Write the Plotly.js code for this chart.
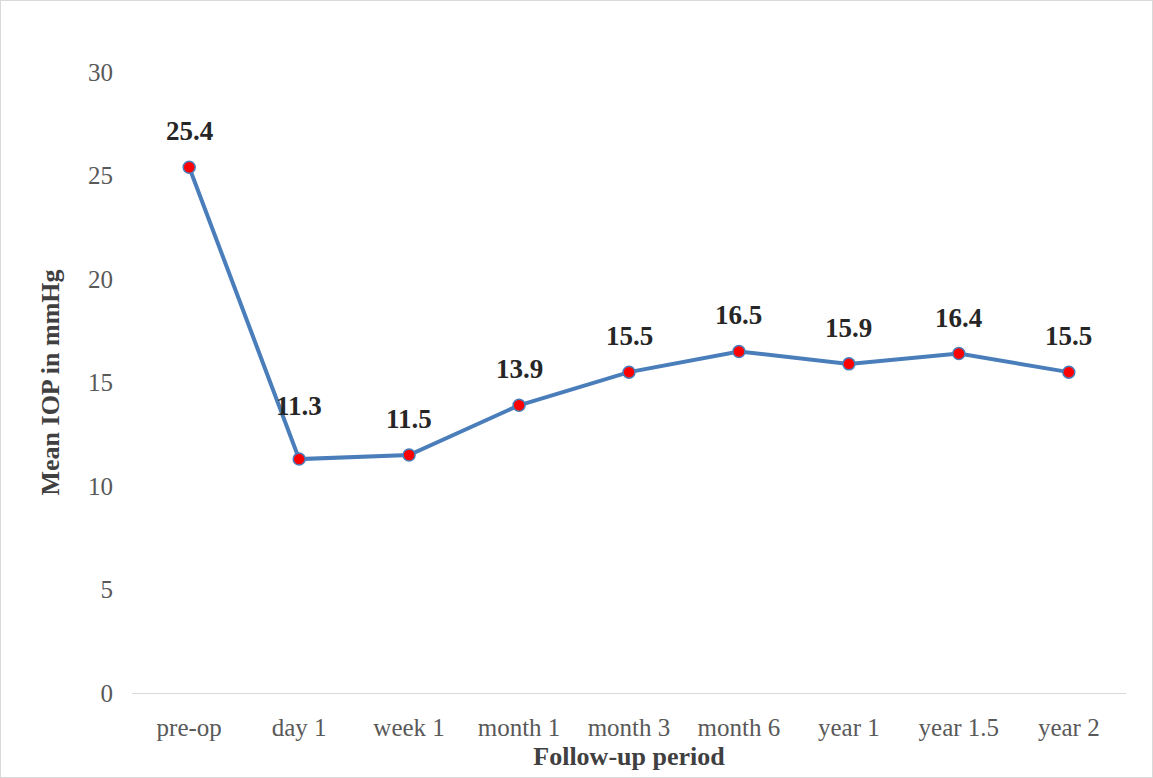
<!DOCTYPE html>
<html>
<head>
<meta charset="utf-8">
<script src="https://cdn.plot.ly/plotly-3.0.1.min.js"></script>
<style>
  body { margin: 0; background: #fff; }
  #graph { width: 1151px; height: 776px; border: 1px solid #d9d9d9; }
</style>
</head>
<body>
<div id="graph"></div>
<script>
var periods = ['pre-op', 'day 1', 'week 1', 'month 1', 'month 3', 'month 6', 'year 1', 'year 1.5', 'year 2'];
var meanIop = [25.4, 11.3, 11.5, 13.9, 15.5, 16.5, 15.9, 16.4, 15.5];

var serif = 'Liberation Serif, Times New Roman, serif';

var trace = {
  type: 'scatter',
  mode: 'lines+markers',
  x: periods,
  y: meanIop,
  line: { color: '#4a7ebb', width: 4 },
  marker: { color: '#ff0000', size: 12, line: { color: '#4a7ebb', width: 1.5 } },
  hoverinfo: 'x+y'
};

// data labels placed above each point
var labels = periods.map(function (p, i) {
  return {
    x: p, y: meanIop[i], text: '<b>' + meanIop[i].toFixed(1) + '</b>',
    showarrow: false, yshift: i === 1 ? 53 : 36,
    font: { family: serif, size: 27, color: '#262626' }
  };
});

var layout = {
  width: 1151,
  height: 776,
  margin: { l: 131, r: 26, t: 71, b: 84 },
  paper_bgcolor: '#fff',
  plot_bgcolor: '#fff',
  showlegend: false,
  annotations: labels,
  xaxis: {
    type: 'category',
    showgrid: false,
    showline: true,
    linecolor: '#d9d9d9',
    linewidth: 1,
    ticks: '',
    ticklabelstandoff: 12,
    tickfont: { family: serif, size: 25, color: '#595959' },
    title: { text: '<b>Follow-up period</b>', standoff: 6, font: { family: serif, size: 26, color: '#404040' } }
  },
  yaxis: {
    range: [0, 30],
    dtick: 5,
    showgrid: false,
    zeroline: false,
    showline: false,
    ticks: '',
    ticklabelstandoff: 18,
    tickfont: { family: serif, size: 25, color: '#595959' },
    title: { text: '<b>Mean IOP in mmHg</b>', standoff: 20, font: { family: serif, size: 26, color: '#404040' } }
  }
};

Plotly.newPlot('graph', [trace], layout, { displayModeBar: false });
</script>
</body>
</html>
